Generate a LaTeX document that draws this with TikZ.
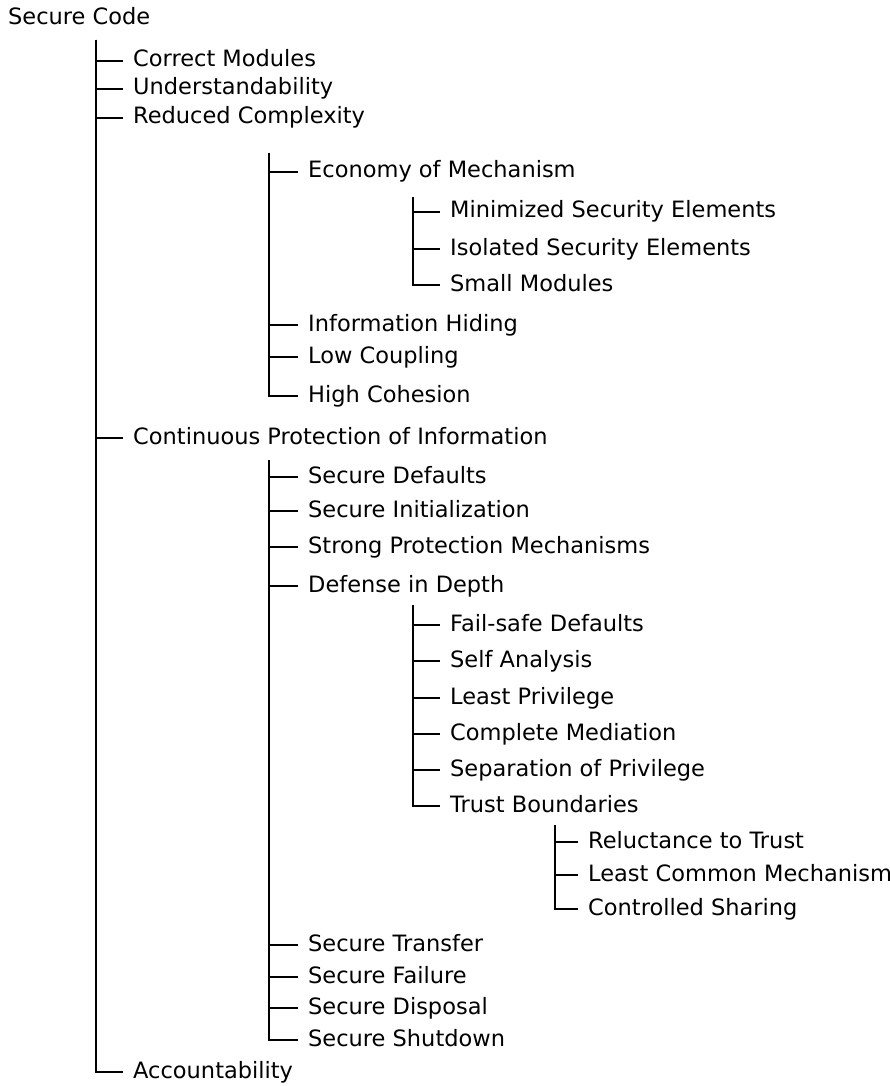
\documentclass[tikz,border=0pt]{standalone}
\usepackage{fontspec}
\setmainfont{DejaVu Sans}
\begin{document}
\begin{tikzpicture}[x=1pt,y=-1pt,
  lbl/.style={anchor=west,inner xsep=0pt,inner ysep=0pt,text height=15pt,text depth=3pt,font=\fontsize{22.5}{26}\selectfont},
  conn/.style={line width=2.4pt,line cap=butt}]
\useasboundingbox (0,0) rectangle (890,1086);
% root
\node[lbl] (root) at (8,19) {Secure Code};
\coordinate (t1) at (96,40);
% level 1
\node[lbl] (cm) at (133,61) {Correct Modules};
\node[lbl] (un) at (133,89) {Understandability};
\node[lbl] (rc) at (133,118) {Reduced Complexity};
\node[lbl] (cp) at (133,438) {Continuous Protection of Information};
\node[lbl] (ac) at (133,1072) {Accountability};
\foreach \n in {cm,un,rc,cp,ac} \draw[conn] (t1) |- ([xshift=-10pt]\n.west);
% reduced complexity subtree
\coordinate (t2a) at (269,153);
\node[lbl] (em) at (308,172) {Economy of Mechanism};
\node[lbl] (ih) at (308,325) {Information Hiding};
\node[lbl] (lc) at (308,357) {Low Coupling};
\node[lbl] (hc) at (308,396) {High Cohesion};
\foreach \n in {em,ih,lc,hc} \draw[conn] (t2a) |- ([xshift=-10pt]\n.west);
\coordinate (t3a) at (413,197);
\node[lbl] (ms) at (450,212) {Minimized Security Elements};
\node[lbl] (is) at (450,249) {Isolated Security Elements};
\node[lbl] (sm) at (450,285) {Small Modules};
\foreach \n in {ms,is,sm} \draw[conn] (t3a) |- ([xshift=-10pt]\n.west);
% continuous protection subtree
\coordinate (t2b) at (269,460);
\node[lbl] (sd) at (308,477) {Secure Defaults};
\node[lbl] (si) at (308,511) {Secure Initialization};
\node[lbl] (sp) at (308,547) {Strong Protection Mechanisms};
\node[lbl] (dd) at (308,586) {Defense in Depth};
\node[lbl] (st) at (308,945) {Secure Transfer};
\node[lbl] (sf) at (308,977) {Secure Failure};
\node[lbl] (sdi) at (308,1008) {Secure Disposal};
\node[lbl] (ss) at (308,1040) {Secure Shutdown};
\foreach \n in {sd,si,sp,dd,st,sf,sdi,ss} \draw[conn] (t2b) |- ([xshift=-10pt]\n.west);
\coordinate (t3b) at (413,605);
\node[lbl] (fs) at (450,625) {Fail-safe Defaults};
\node[lbl] (sa) at (450,661) {Self Analysis};
\node[lbl] (lp) at (450,698) {Least Privilege};
\node[lbl] (cmd) at (450,734) {Complete Mediation};
\node[lbl] (so) at (450,770) {Separation of Privilege};
\node[lbl] (tb) at (450,806) {Trust Boundaries};
\foreach \n in {fs,sa,lp,cmd,so,tb} \draw[conn] (t3b) |- ([xshift=-10pt]\n.west);
\coordinate (t4) at (555,825);
\node[lbl] (rt) at (588,842) {Reluctance to Trust};
\node[lbl] (lcm) at (588,875) {Least Common Mechanism};
\node[lbl] (cs) at (588,909) {Controlled Sharing};
\foreach \n in {rt,lcm,cs} \draw[conn] (t4) |- ([xshift=-10pt]\n.west);
\end{tikzpicture}
\end{document}
